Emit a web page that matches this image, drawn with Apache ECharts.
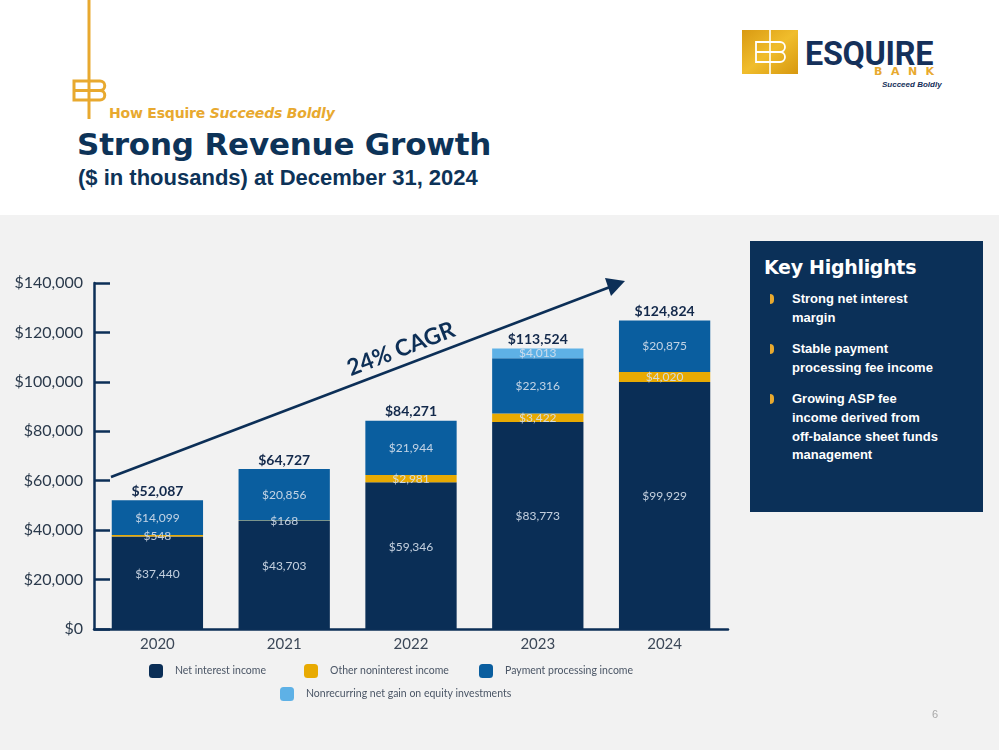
<!DOCTYPE html>
<html>
<head>
<meta charset="utf-8">
<script src="https://cdn.jsdelivr.net/npm/echarts@6/dist/echarts.min.js"></script>
<style>
  html, body { margin: 0; padding: 0; }
  body { width: 999px; height: 750px; background: #f2f2f2; position: relative; overflow: hidden; font-family: "Liberation Sans", Arial, sans-serif; }
  .top { position: absolute; left: 0; top: 0; width: 999px; height: 215px; background: #fff; }
  #chart { position: absolute; left: 0; top: 0; width: 999px; height: 750px; }
  .kicker { position: absolute; left: 109px; top: 105px; font-family: "DejaVu Sans"; font-weight: bold; font-size: 14px; color: #e8a92f; letter-spacing: -0.2px; }
  .title { position: absolute; left: 77px; top: 126px; font-family: "DejaVu Sans"; font-weight: bold; font-size: 31px; color: #0d3358; letter-spacing: -0.2px; }
  .sub { position: absolute; left: 78px; top: 165px; font-weight: bold; font-size: 22px; color: #0d3358; }
  .box { position: absolute; left: 750px; top: 241px; width: 233px; height: 271px; background: #0b3058; color: #fff; }
  .box h3 { margin: 0; position: absolute; left: 14px; top: 15px; font-family: "DejaVu Sans"; font-size: 19px; font-weight: bold; letter-spacing: -0.3px; }
  .box ul { list-style: none; margin: 0; padding: 0; position: absolute; left: 0; top: 49px; }
  .box li { position: relative; padding-left: 42px; font-weight: bold; font-size: 13px; line-height: 18.6px; margin-bottom: 13px; }
  .box li:before { content: ""; position: absolute; left: 20px; top: 4px; width: 4px; height: 10px; background: #e8a92f; border-radius: 0 5px 5px 0; }
  .pagenum { position: absolute; left: 932px; top: 708px; font-size: 11px; color: #a8a8a8; }
  .brand { position: absolute; left: 805px; top: 34px; font-family: Roboto, "DejaVu Sans"; font-weight: bold; font-size: 33px; color: #15305a; letter-spacing: -0.3px; transform: scaleX(0.98); transform-origin: left top; }
  .bank { position: absolute; left: 874px; top: 65px; font-family: "DejaVu Sans"; font-weight: bold; font-size: 11px; color: #e8a92f; letter-spacing: 8.5px; }
  .tag { position: absolute; left: 882px; top: 80px; font-weight: bold; font-style: italic; font-size: 8px; color: #15305a; }
</style>
</head>
<body>
<div class="top"></div>

<!-- left mark -->
<svg style="position:absolute;left:0;top:0" width="130" height="125">
  <line x1="89" y1="0" x2="89" y2="119" stroke="#e8a92f" stroke-width="3"/>
  <path d="M89 81 H74 V100 H89 M74 90.5 H89" fill="none" stroke="#e8a92f" stroke-width="3"/>
  <path d="M89 81 H100 A4.7 4.7 0 0 1 100 90.5 H89 M100 90.5 A4.7 4.7 0 0 1 100 100 H89" fill="none" stroke="#e8a92f" stroke-width="3"/>
</svg>
<div class="kicker">How Esquire <i>Succeeds Boldly</i></div>
<div class="title">Strong Revenue Growth</div>
<div class="sub">($ in thousands) at December 31, 2024</div>

<!-- brand logo -->
<svg style="position:absolute;left:742px;top:30px" width="56" height="44">
  <defs>
    <linearGradient id="gold" x1="0" y1="0" x2="1" y2="1">
      <stop offset="0" stop-color="#d99a12"/>
      <stop offset="0.5" stop-color="#f0bd2c"/>
      <stop offset="1" stop-color="#d7980f"/>
    </linearGradient>
  </defs>
  <rect x="0" y="0" width="56" height="44" fill="url(#gold)"/>
  <line x1="28" y1="0" x2="28" y2="44" stroke="#fff" stroke-width="1.6"/>
  <path d="M28 12 H14 V32 H28 M14 22 H28" fill="none" stroke="#fff" stroke-width="1.8"/>
  <path d="M28 12 H38 A5 5 0 0 1 38 22 H28 M38 22 A5 5 0 0 1 38 32 H28" fill="none" stroke="#fff" stroke-width="1.8"/>
</svg>
<div class="brand">ESQUIRE</div>
<div class="bank">BANK</div>
<div class="tag">Succeed Boldly</div>

<div id="chart"></div>

<div class="box">
  <h3>Key Highlights</h3>
  <ul>
    <li>Strong net interest<br>margin</li>
    <li>Stable payment<br>processing fee income</li>
    <li>Growing ASP fee<br>income derived from<br>off-balance sheet funds<br>management</li>
  </ul>
</div>
<div class="pagenum">6</div>

<script>
// 年份
var years = ["2020", "2021", "2022", "2023", "2024"];
// 各项收入 ($ in thousands)
var net_interest = [37440, 43703, 59346, 83773, 99929];
var other_nonint = [548, 168, 2981, 3422, 4020];
var payment_proc = [14099, 20856, 21944, 22316, 20875];
var nonrecurring = [0, 0, 0, 4013, 0];
var totals = [52087, 64727, 84271, 113524, 124824];
var empty_top = [0, 0, 0, 0, 0];

var navy = "#0c2f57";
var labelColor = "rgba(214, 224, 236, 0.9)";

function money(v) {
    return "$" + v.toLocaleString("en-US");
}

function segment(name, data, color, offsetY) {
    return {
        name: name,
        type: "bar",
        stack: "rev",
        data: data,
        barWidth: "72%",
        itemStyle: { color: color },
        label: {
            show: true,
            position: "inside",
            offset: [0, offsetY],
            fontFamily: "Lato",
            fontSize: 12,
            color: labelColor,
            formatter: function (p) {
                return p.value ? money(p.value) : "";
            },
        },
        emphasis: { disabled: true },
    };
}

function legendAt(name, left, top) {
    return {
        data: [name],
        left: left,
        top: top,
        padding: 0,
        icon: "roundRect",
        itemWidth: 14,
        itemHeight: 14,
        selectedMode: false,
        textStyle: {
            fontFamily: "Lato",
            fontSize: 10.5,
            color: "#4b5666",
            padding: [0, 0, 0, 7],
        },
    };
}

var myChart = echarts.init(document.getElementById("chart"));
var option = {
    animation: false,
    grid: { left: 94, right: 271, top: 283, bottom: 121 },
    legend: [
        legendAt("Net interest income", 149, 664),
        legendAt("Other noninterest income", 304, 664),
        legendAt("Payment processing income", 479, 664),
        legendAt("Nonrecurring net gain on equity investments", 280, 687),
    ],
    xAxis: {
        type: "category",
        data: years,
        axisLine: { lineStyle: { color: navy, width: 2.5 } },
        axisTick: { inside: true, length: 8, lineStyle: { color: navy, width: 2.5 } },
        axisLabel: { fontFamily: "Lato", fontSize: 15, color: "#3c4858", margin: 8 },
    },
    yAxis: {
        type: "value",
        min: 0,
        max: 140000,
        interval: 20000,
        splitLine: { show: false },
        axisLine: { show: true, lineStyle: { color: navy, width: 2.5 } },
        axisTick: { show: true, inside: true, length: 16, lineStyle: { color: navy, width: 2.5 } },
        axisLabel: {
            fontFamily: "Lato",
            fontSize: 16,
            color: "#2b3a4c",
            margin: 11,
            formatter: function (v) {
                return money(v);
            },
        },
    },
    series: [
        segment("Net interest income", net_interest, "#0a2e56", -9),
        segment("Other noninterest income", other_nonint, "#e8aa02", 0),
        segment("Payment processing income", payment_proc, "#0a5e9f", 0),
        segment("Nonrecurring net gain on equity investments", nonrecurring, "#5eb1e6", 0),
        {
            name: "Total",
            type: "bar",
            stack: "rev",
            data: empty_top,
            barWidth: "72%",
            itemStyle: { color: "transparent" },
            label: {
                show: true,
                position: "top",
                distance: 2,
                fontFamily: "Lato",
                fontWeight: "bold",
                fontSize: 14,
                color: "#13294b",
                formatter: function (p) {
                    return money(totals[p.dataIndex]);
                },
            },
            emphasis: { disabled: true },
        },
    ],
    // CAGR 箭头
    graphic: [
        {
            type: "line",
            shape: { x1: 111, y1: 477, x2: 610, y2: 287 },
            style: { stroke: navy, lineWidth: 2.5 },
            silent: true,
        },
        {
            type: "polygon",
            shape: { points: [[625, 281], [605, 278], [611, 296]] },
            style: { fill: navy },
            silent: true,
        },
        {
            type: "text",
            x: 401,
            y: 349,
            rotation: (21 * Math.PI) / 180,
            style: {
                text: "24% CAGR",
                fontFamily: "Lato",
                fontWeight: "bold",
                fontSize: 23,
                fill: "#0d2f56",
                align: "center",
                verticalAlign: "middle",
            },
            silent: true,
        },
    ],
};
myChart.setOption(option);
</script>
</body>
</html>
